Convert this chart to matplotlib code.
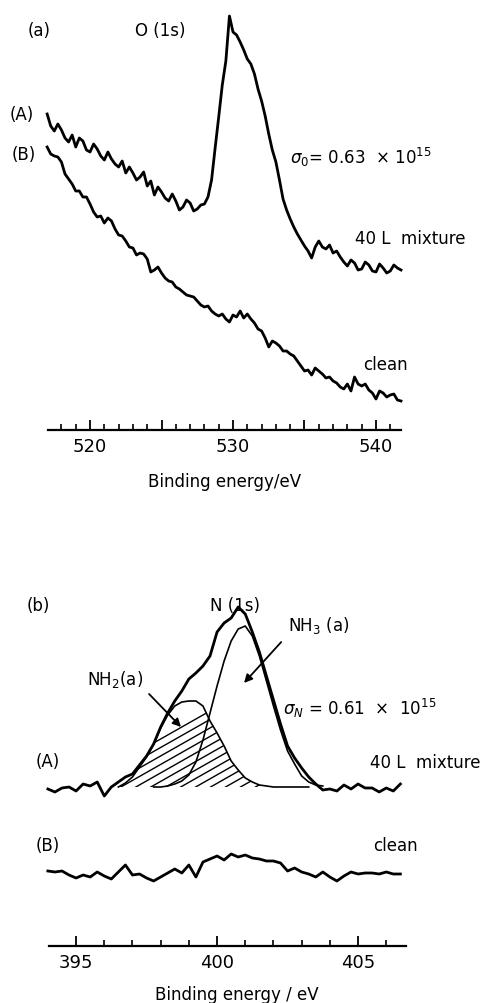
#!/usr/bin/env python3
"""
XPS spectra: O(1s) and N(1s) regions, clean surface vs. 40 L mixture.
"""

import numpy as np
import matplotlib.pyplot as plt
from matplotlib.ticker import MultipleLocator, FuncFormatter

# ---- (a) O(1s) region: binding energy (eV) and intensity (arb. units) ----
# spectra recorded in 0.25 eV steps from 517.0 to 541.75 eV
o_energy = np.arange(517.0, 541.76, 0.25)
o_mixture = [31.6, 30.4, 29.9, 30.6, 30.0, 29.2, 28.8, 29.5, 28.3, 29.2,
             28.9, 28.0, 27.8, 28.6, 28.1, 27.4, 27.0, 27.8, 27.1, 26.6,
             26.3, 26.9, 25.7, 26.3, 25.7, 25.0, 25.3, 25.8, 24.4, 24.9,
             23.5, 24.3, 23.8, 23.2, 22.9, 23.6, 22.9, 22.0, 22.3, 23.0,
             22.7, 21.9, 22.1, 22.5, 22.6, 23.3, 25.0, 28.2, 31.3, 34.5,
             36.9, 41.4, 39.8, 39.5, 38.8, 38.0, 37.1, 36.6, 35.6, 34.1,
             32.9, 31.4, 29.6, 28.0, 26.8, 25.0, 23.1, 22.0, 21.1, 20.3,
             19.6, 19.0, 18.4, 17.9, 17.2, 18.3, 18.9, 18.3, 18.1, 18.5,
             17.7, 17.9, 17.3, 16.8, 16.4, 17.0, 16.7, 16.0, 16.1, 16.8,
             16.5, 15.9, 15.8, 16.6, 16.2, 15.7, 15.9, 16.5, 16.2, 16.0]
o_clean = [28.3, 27.6, 27.4, 27.3, 26.8, 25.6, 25.1, 24.6, 23.9, 23.9,
           23.3, 23.3, 22.6, 21.8, 21.3, 21.4, 20.7, 21.2, 20.9, 20.1,
           19.5, 19.4, 18.9, 18.3, 18.2, 17.5, 17.7, 17.6, 17.1, 15.8,
           16.0, 16.3, 15.7, 15.2, 14.9, 14.8, 14.3, 14.1, 13.8, 13.5,
           13.4, 13.3, 12.9, 12.5, 12.3, 12.4, 11.9, 11.6, 11.4, 11.6,
           11.1, 10.8, 11.5, 11.3, 11.9, 11.2, 11.6, 11.1, 10.7, 10.1,
           9.9, 9.2, 8.3, 8.9, 8.7, 8.4, 7.9, 7.9, 7.6, 7.4,
           6.9, 6.4, 5.9, 6.0, 5.5, 6.2, 5.9, 5.6, 5.2, 5.3,
           4.9, 4.7, 4.3, 4.1, 4.6, 3.9, 5.3, 4.6, 4.4, 4.6,
           4.0, 3.7, 3.1, 3.9, 3.7, 3.3, 3.5, 3.6, 3.0, 2.9]

# ---- (b) N(1s) region ----
n_energy = [394.0, 394.25, 394.5, 394.75, 395.0, 395.25, 395.5, 395.75, 396.0, 396.25,
            396.5, 396.75, 397.0, 397.25, 397.5, 397.75, 398.0, 398.25, 398.5, 398.75,
            399.0, 399.25, 399.5, 399.75, 400.0, 400.25, 400.5, 400.75, 401.0, 401.25,
            401.5, 401.75, 402.0, 402.25, 402.5, 402.75, 403.0, 403.25, 403.5, 403.75,
            404.0, 404.25, 404.5, 404.75, 405.0, 405.25, 405.5, 405.75, 406.0, 406.25,
            406.5]
n_mixture = [15.7, 15.4, 15.8, 15.9, 15.5, 16.2, 16.0, 16.4, 15.0, 15.9,
             16.4, 16.9, 17.2, 18.1, 19.0, 20.2, 21.9, 23.3, 24.5, 25.5,
             26.7, 27.3, 28.0, 29.0, 31.4, 32.3, 32.8, 33.9, 33.2, 31.4,
             29.4, 27.0, 24.6, 22.2, 20.0, 18.8, 17.8, 16.9, 16.2, 15.6,
             15.7, 15.5, 16.1, 15.7, 16.2, 15.8, 15.8, 15.4, 15.8, 15.5,
             16.2]
n_clean = [7.5, 7.4, 7.5, 7.1, 6.8, 7.1, 6.9, 7.4, 7.0, 6.7,
           7.4, 8.1, 7.1, 7.2, 6.8, 6.5, 6.9, 7.3, 7.7, 7.3,
           8.1, 6.9, 8.4, 8.7, 9.0, 8.6, 9.2, 8.9, 9.1, 8.8,
           8.7, 8.5, 8.5, 8.3, 7.5, 7.8, 7.4, 7.2, 6.9, 7.4,
           6.9, 6.5, 7.0, 7.4, 7.2, 7.3, 7.3, 7.2, 7.4, 7.2,
           7.2]

# fitted components of the 40 L mixture N(1s) peak
n_base = 15.9
nh2_energy = [396.5, 396.75, 397.0, 397.25, 397.5, 397.75, 398.0, 398.25, 398.5, 398.75,
              399.0, 399.25, 399.5, 399.75, 400.0, 400.25, 400.5, 400.75, 401.0, 401.25,
              401.5, 401.75, 402.0, 402.5, 403.0, 403.25]
nh2_fit = [15.9, 16.3, 16.9, 17.9, 18.9, 20.2, 21.8, 23.1, 24.0, 24.4,
           24.5, 24.5, 24.0, 22.5, 21.3, 20.0, 18.5, 17.6, 16.8, 16.4,
           16.1, 16.0, 15.9, 15.9, 15.9, 15.9]
nh3_energy = [397.75, 398.0, 398.25, 398.5, 398.75, 399.0, 399.25, 399.5, 399.75, 400.0,
              400.25, 400.5, 400.75, 401.0, 401.25, 401.5, 401.75, 402.0, 402.25, 402.5,
              402.75, 403.0, 403.25, 403.5, 403.75]
nh3_fit = [15.9, 15.9, 16.0, 16.2, 16.5, 17.1, 18.4, 20.6, 23.3, 26.0,
           28.5, 30.5, 31.7, 32.0, 31.0, 29.0, 26.5, 24.0, 21.6, 19.5,
           18.2, 17.0, 16.4, 16.1, 16.0]


def style_axis(ax, xmin, xmax, labelled):
    """Bare bottom axis with upward ticks, like the original figure."""
    for side in ('top', 'left', 'right'):
        ax.spines[side].set_visible(False)
    ax.spines['bottom'].set_linewidth(1.6)
    ax.set_yticks([])
    ax.set_xlim(xmin, xmax)
    ax.xaxis.set_major_locator(MultipleLocator(5))
    ax.xaxis.set_minor_locator(MultipleLocator(1))
    ax.xaxis.set_major_formatter(
        FuncFormatter(lambda v, p: f"{v:.0f}" if round(v) in labelled else ""))
    ax.tick_params(axis='x', which='major', direction='in', length=7, width=1.3,
                   labelsize=13, pad=5)
    ax.tick_params(axis='x', which='minor', direction='in', length=4, width=1.2)
    ax.patch.set_alpha(0)


fig = plt.figure(figsize=(4.94, 10.04), dpi=100)

# ---------------- panel (a) ----------------
ax1 = fig.add_axes([48 / 494, 1 - 431 / 1004, 353 / 494, 431 / 1004])
style_axis(ax1, 517.06, 541.75, {520, 530, 540})
ax1.set_ylim(0, 43.1)
ax1.plot(o_energy, o_mixture, color='k', lw=2.0, clip_on=False)
ax1.plot(o_energy, o_clean, color='k', lw=2.0, clip_on=False)

ax1.text(515.6, 40.0, "(a)", fontsize=12, va='center')
ax1.text(523.15, 40.0, "O (1s)", fontsize=12, va='center')
ax1.text(514.4, 31.6, "(A)", fontsize=12, va='center')
ax1.text(514.55, 27.6, "(B)", fontsize=12, va='center')
ax1.text(534.0, 27.4, r"$\sigma_0$= 0.63  × 10$^{15}$", fontsize=12, va='center')
ax1.text(538.5, 19.2, "40 L  mixture", fontsize=12, va='center')
ax1.text(539.1, 6.6, "clean", fontsize=12, va='center')
ax1.set_xlabel("Binding energy/eV", fontsize=12)
ax1.xaxis.set_label_coords(0.5, -0.118)
ax1.xaxis.label.set_va('center')

# ---------------- panel (b) ----------------
ax2 = fig.add_axes([49 / 494, 1 - 947 / 1004, 357 / 494, 347 / 1004])
style_axis(ax2, 394.04, 406.7, {395, 400, 405})
ax2.set_ylim(0, 34.7)

# hatched NH2 component
hatch_area = ax2.fill_between(nh2_energy, n_base, nh2_fit, facecolor='none',
                              edgecolor='none', lw=0)
clip = hatch_area.get_paths()[0]
slope = 1.6      # data units per eV (about 30 degrees on the page)
for start in np.arange(395.0, 403.5, 0.53):
    hx = np.array([start, start + 6])
    hl, = ax2.plot(hx, n_base + slope * (hx - start), color='k', lw=1.0)
    hl.set_clip_path(clip, ax2.transData)

ax2.plot(nh2_energy, nh2_fit, color='k', lw=1.2)
ax2.plot(nh3_energy, nh3_fit, color='k', lw=1.2)
ax2.plot(n_energy, n_mixture, color='k', lw=2.0, clip_on=False)
ax2.plot(n_energy, n_clean, color='k', lw=2.0, clip_on=False)

ax2.text(393.23, 34.1, "(b)", fontsize=12, va='center')
ax2.text(399.75, 34.1, "N (1s)", fontsize=12, va='center')
ax2.text(402.52, 32.2, r"NH$_3$ (a)", fontsize=12, va='center')
ax2.annotate("", xy=(400.89, 26.1), xytext=(402.34, 30.6),
             arrowprops=dict(arrowstyle='-|>', color='k', lw=1.3, mutation_scale=12))
ax2.text(395.39, 26.7, r"NH$_2$(a)", fontsize=12, va='center')
ax2.annotate("", xy=(398.79, 21.7), xytext=(397.52, 25.4),
             arrowprops=dict(arrowstyle='-|>', color='k', lw=1.3, mutation_scale=12))
ax2.text(402.34, 23.9, r"$\sigma_N$ = 0.61  ×  10$^{15}$", fontsize=12, va='center')
ax2.text(393.55, 18.5, "(A)", fontsize=12, va='center')
ax2.text(405.43, 18.4, "40 L  mixture", fontsize=12, va='center')
ax2.text(393.55, 10.1, "(B)", fontsize=12, va='center')
ax2.text(405.53, 10.1, "clean", fontsize=12, va='center')
ax2.set_xlabel("Binding energy / eV", fontsize=12)
ax2.xaxis.set_label_coords(0.527, -0.138)
ax2.xaxis.label.set_va('center')

fig.savefig("out.png", dpi=100)
